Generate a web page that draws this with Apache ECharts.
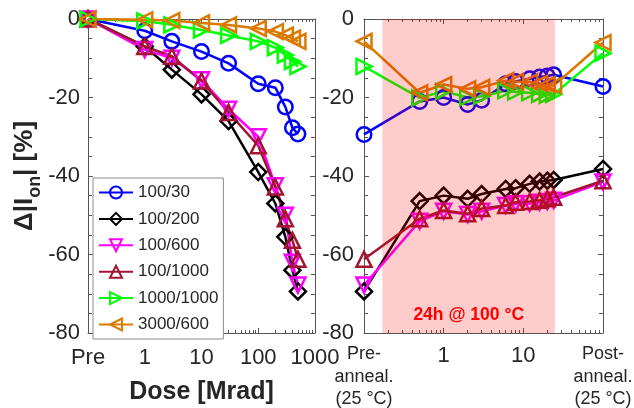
<!DOCTYPE html>
<html><head><meta charset="utf-8">
<script src="https://cdn.jsdelivr.net/npm/echarts@6/dist/echarts.min.js"></script>
<style>html,body{margin:0;padding:0;background:#fff}#c{width:634px;height:408px}</style>
</head><body><div id="c"></div>
<script>
// ---------- data ----------
const seriesNames = ['100/30', '100/200', '100/600', '100/1000', '1000/1000', '3000/600'];

// left panel: dose (0.1 on the log axis = "Pre")
const doses = [0.1, 1, 3, 10, 30, 100, 200, 300, 400, 500];
const dose_100_30    = [0, -3.0, -5.7, -8.3, -11.3, -16.5, -17.5, -22.4, -27.7, -29.3];
const dose_100_200   = [0, -7.0, -12.9, -19.2, -26.0, -39.0, -47.0, -55.5, -64.0, -69.4];
const dose_100_600   = [0, -7.8, -10.0, -15.5, -23.0, -30.0, -42.5, -50.0, -62.0, -67.8];
const dose_100_1000  = [0, -7.0, -9.5, -15.8, -23.8, -32.3, -42.8, -50.9, -56.4, -61.2];
const dose_1000_1000 = [0, -0.5, -1.5, -2.8, -4.2, -5.7, -7.3, -9.2, -10.8, -12.1];
const dose_3000_600  = [0, -0.2, -0.4, -1.0, -1.5, -2.4, -3.2, -4.1, -4.9, -5.7];

// right panel: anneal time [h] (0.1 = "Pre-anneal.", 100 = "Post-anneal.")
const times = [0.1, 0.5, 1, 2, 3, 6, 8, 12, 16, 20, 24, 100];
const anneal_100_30    = [-29.4, -21.0, -20.0, -21.8, -20.7, -16.5, -15.9, -15.2, -14.8, -14.5, -14.2, -17.2];
const anneal_100_200   = [-69.4, -46.4, -45.0, -45.8, -44.6, -43.3, -43.1, -42.0, -41.4, -41.2, -41.0, -38.2];
const anneal_100_600   = [-67.8, -51.5, -49.0, -49.8, -49.0, -47.5, -47.1, -47.0, -46.7, -46.5, -46.2, -41.5];
const anneal_100_1000  = [-61.2, -50.9, -48.8, -49.6, -48.3, -47.5, -46.7, -46.5, -46.2, -45.8, -45.4, -41.2];
const anneal_1000_1000 = [-12.1, -20.1, -18.4, -20.0, -19.7, -18.3, -18.6, -18.8, -19.2, -19.4, -19.2, -8.7];
const anneal_3000_600  = [-5.7, -18.8, -16.7, -17.8, -17.4, -15.7, -15.9, -16.0, -16.4, -16.7, -17.0, -6.0];

const shadeX = [0.17, 25];      // 24 h anneal window
const shadeY = [0, -80];
const shadeText = '24h @ 100 °C';

const doseTicks = {0.1: 'Pre'};
const timeTicks = {0.1: 'Pre-\nanneal.\n(25 °C)', 100: 'Post-\nanneal.\n(25 °C)'};

// ---------- styles ----------
const FONT = "'Liberation Sans', Arial, Helvetica, sans-serif";
const TXT = '#262626';
const AX = '#555555';
const styles = [
  {color: '#0000FF', symbol: 'circle', size: 14.5},
  {color: '#000000', symbol: 'diamond', size: 16},
  {color: '#FF00FF', symbol: 'path://M0,0 L10,0 L5,9 Z', size: 15},
  {color: '#A2142F', symbol: 'path://M5,0 L10,9 L0,9 Z', size: 15},
  {color: '#00FF00', symbol: 'path://M0,0 L9,5 L0,10 Z', size: 15},
  {color: '#DB7A00', symbol: 'path://M9,0 L0,5 L9,10 Z', size: 15}
];
const leftSets = [dose_100_30, dose_100_200, dose_100_600, dose_100_1000, dose_1000_1000, dose_3000_600];
const rightSets = [anneal_100_30, anneal_100_200, anneal_100_600, anneal_100_1000, anneal_1000_1000, anneal_3000_600];

function mkSeries(name, xs, ys, st, xi) {
  return {
    name, type: 'line', xAxisIndex: xi, yAxisIndex: xi,
    data: xs.map((x, i) => [x, ys[i]]),
    symbol: st.symbol, symbolSize: st.size,
    lineStyle: {color: st.color, width: 2.5},
    itemStyle: {color: 'rgba(255,255,255,0)', borderColor: st.color, borderWidth: 2.5},
    emphasis: {disabled: true},
    z: 3
  };
}

function xAx(grid, min, max, pos, labels, name, extra) {
  return Object.assign({
    gridIndex: grid, type: 'log', logBase: 10, min, max, position: pos,
    axisLine: {onZero: false, lineStyle: {color: AX, width: 1}},
    axisTick: {inside: true, length: 5, lineStyle: {color: AX}},
    minorTick: {show: true, splitNumber: 9, length: 3, lineStyle: {color: AX}},
    splitLine: {show: false},
    axisLabel: labels ? labels : {show: false},
    name: name || '', nameLocation: 'middle'
  }, extra || {});
}
function yAx(grid, pos, labels, extra) {
  return Object.assign({
    gridIndex: grid, type: 'value', min: -80, max: 0, interval: 20, position: pos,
    axisLine: {show: true, onZero: false, lineStyle: {color: AX, width: 1}},
    axisTick: {show: true, inside: true, length: 5, lineStyle: {color: AX}},
    minorTick: {show: true, splitNumber: 4, length: 4, lineStyle: {color: AX}},
    splitLine: {show: false},
    axisLabel: labels ? labels : {show: false}
  }, extra || {});
}

const option = {
  animation: false,
  backgroundColor: '#fff',
  textStyle: {fontFamily: FONT},
  grid: [
    {left: 88, right: 319, top: 19, bottom: 75, containLabel: false, outerBoundsMode: 'none'},
    {left: 364, right: 31, top: 19, bottom: 75, containLabel: false, outerBoundsMode: 'none'}
  ],
  xAxis: [
    xAx(0, 0.1, 1000, 'bottom', {
      show: true, margin: 14, color: TXT, fontSize: 22, fontFamily: FONT, showMinLabel: true, showMaxLabel: true,
      formatter: v => (v < 0.5 ? doseTicks[0.1] : String(Math.round(v)))
    }, 'Dose [Mrad]', {nameGap: 47, nameTextStyle: {fontSize: 25, fontWeight: 'bold', color: TXT, fontFamily: FONT}}),
    xAx(0, 0.1, 1000, 'top', null),
    xAx(1, 0.1, 100, 'bottom', {
      show: true, margin: 10, color: TXT, fontFamily: FONT, showMinLabel: true, showMaxLabel: true,
      formatter: v => {
        if (v < 0.5) return '{s|' + timeTicks[0.1].split('\n').join('}\n{s|') + '}';
        if (v > 50) return '{s|' + timeTicks[100].split('\n').join('}\n{s|') + '}';
        return '{b|' + Math.round(v) + '}';
      },
      rich: {
        s: {fontSize: 18, lineHeight: 22.5, color: TXT, fontFamily: FONT},
        b: {fontSize: 22, lineHeight: 26, color: TXT, fontFamily: FONT}
      }
    }, 'Time [h]', {nameGap: 45, nameTextStyle: {fontSize: 25, fontWeight: 'bold', color: TXT, fontFamily: FONT}}),
    xAx(1, 0.1, 100, 'top', null)
  ],
  yAxis: [
    yAx(0, 'left', {show: true, margin: 8, color: TXT, fontSize: 22, fontFamily: FONT}, {
      name: '{b|Δ|I}{s|on}{b|| [%]}', nameLocation: 'middle', nameGap: 46,
      nameTextStyle: {
        rich: {
          b: {fontSize: 26, fontWeight: 'bold', color: TXT, fontFamily: FONT, lineHeight: 30, verticalAlign: 'top'},
          s: {fontSize: 18, fontWeight: 'bold', color: TXT, fontFamily: FONT, lineHeight: 20, verticalAlign: 'top', padding: [14, 0, 0, 0]}
        }
      }
    }),
    yAx(0, 'right', null),
    yAx(1, 'left', {show: true, margin: 10, color: TXT, fontSize: 22, fontFamily: FONT}),
    yAx(1, 'right', null)
  ],
  legend: {
    data: seriesNames, orient: 'vertical', left: 93, top: 178,
    itemWidth: 34, itemHeight: 15, itemGap: 9.4, padding: [6, 5, 6, 5],
    backgroundColor: '#fff', borderColor: '#8c8c8c', borderWidth: 1, borderRadius: 0,
    selectedMode: false,
    textStyle: {fontSize: 17, color: TXT, fontFamily: FONT}
  },
  series: []
};

seriesNames.forEach((n, i) => option.series.push(mkSeries(n, doses, leftSets[i], styles[i], 0)));
seriesNames.forEach((n, i) => option.series.push(mkSeries(n, times, rightSets[i], styles[i], 2)));

option.series.push({
  type: 'custom', name: 'anneal', xAxisIndex: 2, yAxisIndex: 2, z: 10, silent: true,
  data: [[shadeX[0], shadeX[1], shadeY[0], shadeY[1]]],
  encode: {x: [0, 1], y: [2, 3]},
  renderItem: function (params, api) {
    const p0 = api.coord([api.value(0), api.value(2)]);
    const p1 = api.coord([api.value(1), api.value(3)]);
    return {
      type: 'group',
      children: [
        {type: 'rect', shape: {x: p0[0], y: p0[1], width: p1[0] - p0[0], height: p1[1] - p0[1]},
         style: {fill: 'rgba(255,0,0,0.2)'}},
        {type: 'text', x: (p0[0] + p1[0]) / 2, y: p1[1] - 18,
         style: {text: shadeText, fill: '#FF0000', fontSize: 17.5, fontWeight: 'bold', fontFamily: FONT,
                 align: 'center', verticalAlign: 'middle'}}
      ]
    };
  }
});

const chart = echarts.init(document.getElementById('c'), null, {renderer: 'canvas'});
chart.setOption(option);
</script>
</body></html>
